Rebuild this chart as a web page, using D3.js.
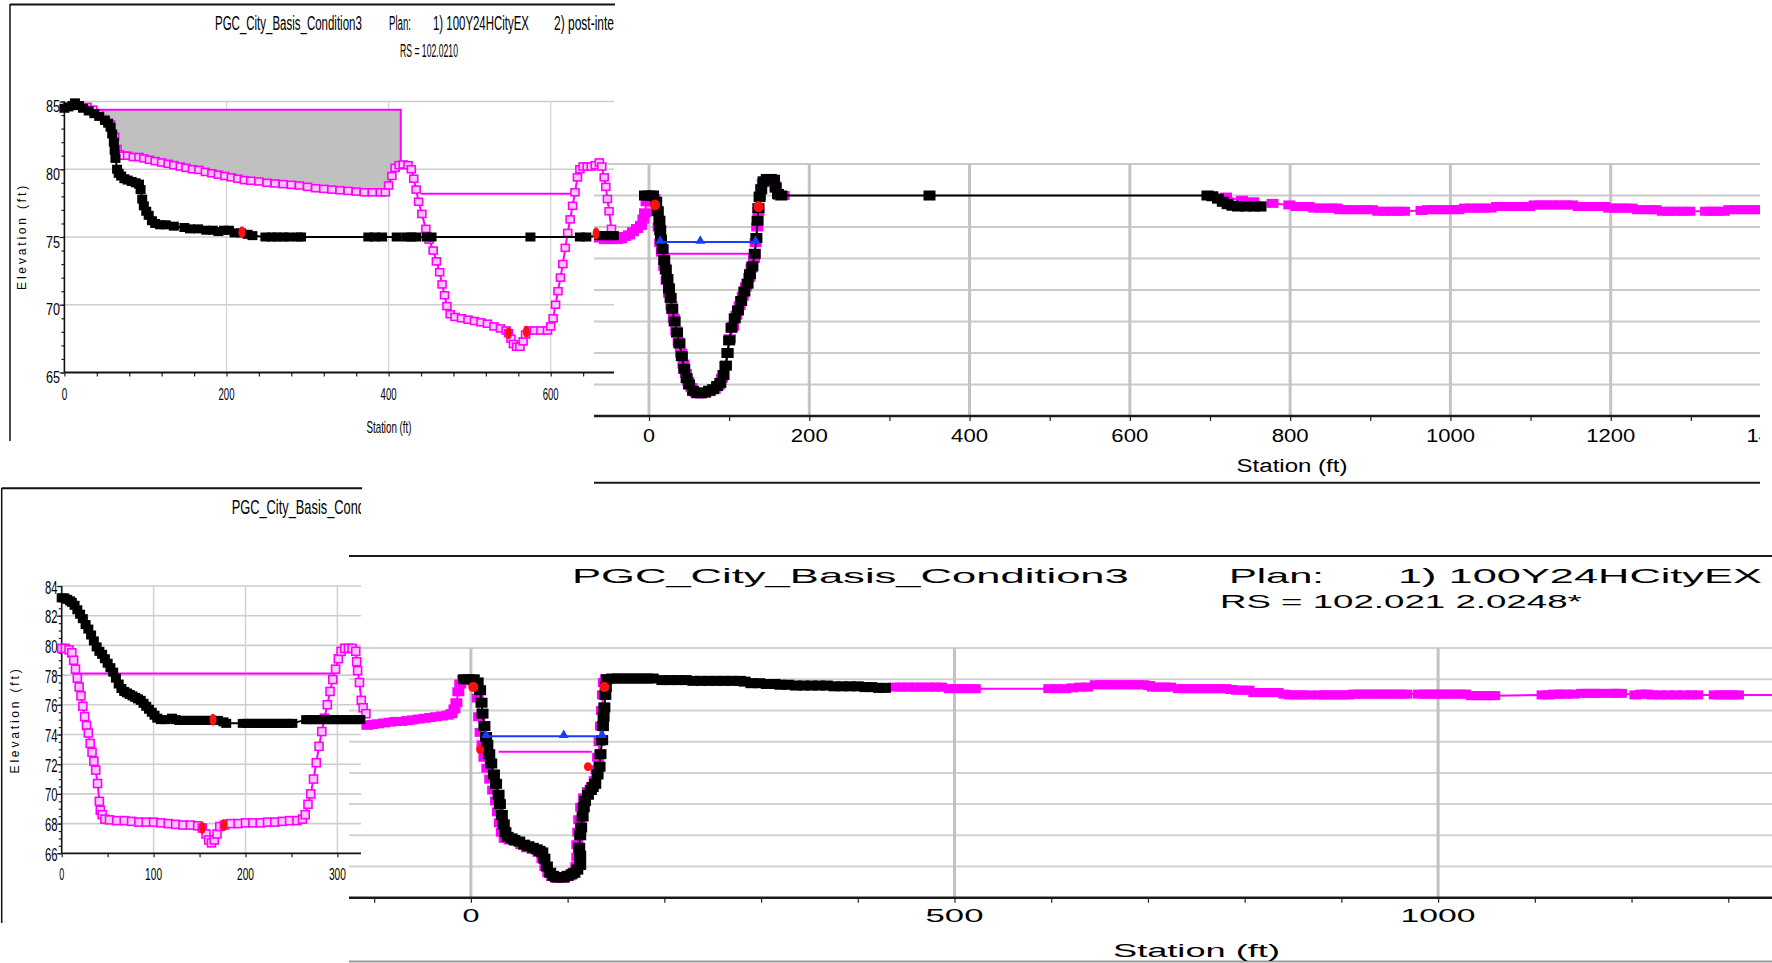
<!DOCTYPE html>
<html>
<head>
<meta charset="utf-8">
<script src="https://cdn.jsdelivr.net/npm/d3@7"></script>
<style>
  body { margin: 0; background: #fff; }
  svg { display: block; }
</style>
</head>
<body>
<svg id="chart" width="1772" height="963"></svg>
<script>
// ---------- Cross-section data: [station ft, elevation ft] ----------

// Top-left section (RS = 102.0210)
const A_ground1 = [[0,84.5],[5,84.6],[10,84.7],[13,84.9],[18,84.7],[23,84.5],[30,84.3],[37,84.1],[43,83.9],[50,83.6],[54,83.4],[57,83.1],[59,82.6],[61,82.0],[62,81.4],[63,80.8],[65,80.0],[67,79.7],[70,79.5],[74,79.3],[78,79.2],[83,79.1],[88,79.0],[92,78.9],[94,78.5],[96,77.8],[98,77.3],[101,76.9],[104,76.6],[108,76.2],[112,76.0],[118,75.9],[125,75.9],[135,75.8],[148,75.7],[155,75.6],[165,75.6],[175,75.5],[183,75.5],[190,75.4],[197,75.5],[203,75.5],[210,75.3],[218,75.3],[226,75.2],[232,75.1],[248,75.0],[256,75.0],[262,75.0],[270,75.0],[277,75.0],[288,75.0],[292,75.0],[375,75.0],[383,75.0],[392,75.0],[410,75.0],[422,75.0],[428,75.0],[434,75.0],[447,75.0],[453,75.0],[575,75.0],[636,75.0],[644,75.0],[660,75.1],[667,75.1],[673,75.1],[678,75.1]];
const A_ground2 = [[28,84.6],[35,84.4],[42,84.1],[50,83.7],[57,83.3],[62,82.4],[65,81.5],[68,81.1],[72,81.0],[78,81.0],[85,80.9],[92,80.9],[98,80.8],[105,80.7],[112,80.6],[120,80.5],[128,80.4],[135,80.3],[143,80.2],[150,80.1],[158,80.0],[166,79.95],[174,79.8],[182,79.7],[190,79.6],[198,79.5],[206,79.4],[214,79.3],[222,79.2],[230,79.15],[240,79.1],[250,79.0],[260,78.95],[270,78.9],[280,78.85],[290,78.8],[300,78.7],[310,78.6],[320,78.55],[330,78.5],[340,78.45],[350,78.4],[360,78.35],[370,78.3],[380,78.3],[390,78.3],[396,78.3],[400,78.8],[404,79.5],[408,80.1],[413,80.3],[418,80.35],[424,80.3],[428,80.0],[431,79.3],[434,78.5],[437,77.6],[441,76.7],[446,75.6],[450,74.8],[455,74.0],[459,73.2],[463,72.4],[466,71.5],[469,70.7],[472,69.9],[476,69.3],[482,69.1],[490,69.0],[498,68.9],[506,68.8],[514,68.7],[522,68.6],[530,68.4],[538,68.25],[545,68.1],[548,67.9],[551,67.5],[554,67.1],[558,66.9],[562,66.9],[566,67.3],[569,67.8],[573,68.1],[580,68.1],[588,68.1],[596,68.1],[600,68.4],[603,69.0],[606,70.0],[609,71.0],[612,72.0],[615,73.0],[618,74.2],[621,75.3],[624,76.3],[627,77.3],[630,78.3],[633,79.4],[636,80.0],[640,80.2],[645,80.2],[650,80.2],[655,80.3],[660,80.5],[663,80.2],[666,79.4],[668,78.7],[670,77.8],[672,76.9],[675,75.6],[678,75.0]];
const A_banks1 = [[219,75.35],[656,75.25]];
const A_banks2 = [[548,67.9],[570,68.0]];
const A_ineffective2 = [[33,84.4],[415,84.4],[415,80.3]];
const A_ws2 = [[440,78.2],[631,78.2]];

// Top-right section
const B_ground1 = [[-5,78.0],[0,78.0],[5,78.0],[9,77.6],[11,77.0],[13,76.4],[14,75.8],[15,75.2],[17,74.6],[19,73.9],[21,73.3],[23,72.7],[25,72.1],[27,71.5],[29,70.8],[32,70.0],[35,69.3],[38,68.6],[41,67.8],[44,67.0],[47,66.4],[50,66.0],[55,65.6],[60,65.45],[65,65.45],[70,65.5],[75,65.6],[80,65.7],[85,65.9],[89,66.1],[93,66.6],[96,67.2],[98,68.0],[100,68.8],[103,69.6],[107,70.2],[111,70.7],[115,71.3],[119,71.9],[123,72.4],[126,73.0],[129,73.5],[132,74.3],[134,75.3],[135.5,76.4],[136.5,77.2],[138,77.9],[140,78.4],[143,78.9],[147,79.05],[152,79.05],[156,79.0],[158,78.5],[161,78.1],[165,78.0],[350,78.0],[697,78.0],[703,77.95],[710,77.8],[716,77.6],[722,77.45],[728,77.35],[735,77.3],[745,77.3],[755,77.3],[763,77.3]];
// plan 2 ground, left bank and channel
const B_ground2_left = [[-62,75.3],[-55,75.2],[-48,75.2],[-44,75.3],[-40,75.2],[-35,75.25],[-30,75.4],[-25,75.5],[-20,75.7],[-15,75.9],[-10,76.1],[-7,76.5],[-5,76.9],[-3,77.6],[-1,78.0],[3,78.0],[7,77.8],[10,77.0],[12,76.0],[14,75.0],[16,74.4],[19,73.5],[22,72.6],[25,71.8],[28,71.0],[31,70.2],[34,69.4],[37,68.7],[40,68.0],[43,67.3],[46,66.7],[49,66.2],[53,65.8],[58,65.5],[64,65.4],[70,65.45],[76,65.55],[82,65.7],[87,65.95],[91,66.4],[95,67.2],[98,68.0],[101,68.9],[105,69.7],[109,70.4],[113,71.0],[117,71.6],[121,72.2],[125,72.8],[128,73.4],[131,74.0],[133,75.0],[135,76.0],[136.5,77.0],[138.5,78.0],[142,78.8],[148,79.0],[154,79.0],[158,78.6],[162,78.0],[168,78.0]];
// plan 2 ground, right overbank
const B_ground2_right = [[697,78.0],[720,77.9],[740,77.7],[754,77.6],[778,77.5],[799,77.4],[808,77.3],[815,77.3],[823,77.3],[830,77.2],[838,77.2],[845,77.2],[852,77.2],[858,77.2],[862,77.1],[870,77.1],[878,77.1],[886,77.1],[894,77.1],[902,77.1],[910,77.0],[918,77.0],[926,77.0],[934,77.0],[942,77.0],[964,77.05],[972,77.1],[980,77.1],[988,77.1],[995,77.1],[1003,77.1],[1010,77.1],[1018,77.2],[1026,77.2],[1034,77.2],[1042,77.2],[1050,77.2],[1058,77.3],[1066,77.3],[1074,77.3],[1082,77.3],[1090,77.3],[1098,77.3],[1105,77.4],[1113,77.4],[1120,77.4],[1128,77.4],[1136,77.4],[1144,77.4],[1152,77.4],[1160,77.3],[1168,77.3],[1176,77.3],[1184,77.3],[1192,77.3],[1198,77.2],[1205,77.2],[1212,77.2],[1218,77.2],[1226,77.2],[1234,77.1],[1242,77.1],[1250,77.1],[1256,77.1],[1265,77.0],[1273,77.0],[1281,77.0],[1290,77.0],[1298,77.0],[1319,77.0],[1325,77.0],[1333,77.0],[1341,77.0],[1348,77.1],[1356,77.1],[1364,77.1],[1372,77.1],[1380,77.1],[1388,77.1]];
const B_banks1 = [[7.4,77.4],[136.6,77.3]];
const B_ws1 = [[14,75.05],[64,75.05],[133,75.05]];
const B_ws2 = [[22,74.3],[126,74.3]];

// Bottom-left section
const C_ground1 = [[0,83.2],[3,83.2],[6,83.1],[9,83.0],[11,82.9],[14,82.7],[17,82.4],[20,82.1],[23,81.8],[26,81.4],[29,81.1],[32,80.7],[35,80.3],[38,79.9],[41,79.6],[44,79.4],[47,79.1],[50,78.8],[53,78.5],[56,78.2],[59,77.8],[62,77.4],[65,77.1],[68,76.9],[71,76.8],[74,76.7],[77,76.6],[80,76.5],[83,76.4],[86,76.3],[89,76.1],[92,75.9],[95,75.7],[98,75.5],[101,75.3],[104,75.1],[108,75.0],[113,75.0],[120,75.1],[124,75.0],[128,74.95],[132,74.95],[136,74.95],[140,74.95],[144,74.95],[148,74.95],[152,74.95],[156,74.95],[160,74.95],[164,74.95],[170,74.95],[176,74.85],[179,74.75],[197,74.75],[202,74.75],[207,74.75],[212,74.75],[217,74.75],[222,74.75],[227,74.75],[232,74.75],[237,74.75],[242,74.75],[247,74.75],[251,74.75],[266,75.0],[270,75.0],[275,75.0],[280,75.0],[285,75.0],[290,75.0],[295,75.0],[300,75.0],[305,75.0],[310,75.0],[315,75.0],[320,75.0],[325,75.0]];
const C_ground2 = [[0,79.8],[4,79.8],[8,79.7],[11,79.5],[13,79.0],[15,78.4],[17,77.8],[19,77.2],[21,76.6],[23,75.9],[25,75.2],[27,74.6],[29,74.1],[31,73.4],[33,72.8],[35,72.2],[37,71.6],[39,70.7],[41,69.5],[42,68.9],[44,68.6],[47,68.3],[52,68.25],[60,68.2],[68,68.2],[76,68.15],[84,68.1],[92,68.1],[100,68.1],[108,68.05],[116,68.0],[124,67.95],[132,67.9],[140,67.9],[148,67.85],[153,67.7],[157,67.3],[160,66.9],[163,66.7],[166,66.9],[169,67.3],[172,67.8],[177,67.9],[184,68.0],[192,68.0],[200,68.05],[208,68.05],[216,68.05],[224,68.1],[232,68.1],[240,68.15],[248,68.2],[256,68.2],[262,68.3],[265,68.6],[268,69.3],[271,70.0],[274,71.0],[277,72.1],[280,73.2],[283,74.2],[286,75.1],[289,76.0],[292,76.9],[295,77.7],[298,78.4],[301,79.1],[304,79.6],[308,79.8],[312,79.8],[316,79.8],[320,79.6],[321,78.9],[322,78.3],[324,77.5],[326,76.3],[328,75.8],[331,75.4]];
const C_banks1 = [[164.6,75.0]];
const C_banks2 = [[153,67.7],[176.5,67.9]];
const C_ws2 = [[20,78.1],[296,78.1]];

// Bottom-right section (RS = 102.021 2.0248*)
const D_ground1 = [[-7,78.0],[-2,78.0],[3,78.0],[7,77.8],[9.5,77.3],[11,76.5],[12,75.8],[14,75.0],[15.7,74.3],[17,73.8],[19,73.2],[21,72.6],[23.8,71.9],[26,71.3],[28.6,70.6],[30,70.0],[32,69.3],[34,68.7],[35.7,68.2],[38,67.9],[42,67.8],[45,67.7],[50,67.6],[55,67.4],[59.5,67.3],[64,67.2],[68,67.1],[71,67.0],[73.8,66.9],[76,66.5],[78.6,66.0],[82,65.6],[85,65.4],[88,65.3],[92,65.3],[96,65.3],[100,65.4],[104,65.5],[107,65.6],[110,65.8],[113,66.1],[113,66.7],[112,67.2],[113,68.0],[114,68.5],[115.5,69.2],[116.7,69.8],[118,70.2],[121,70.6],[124,70.9],[126,71.1],[128.6,71.3],[131,71.9],[133,72.4],[134,73.2],[135.7,74.1],[136.5,75.0],[137.2,75.6],[138,76.2],[139,77.0],[139.5,77.5],[140.5,78.0],[146,78.05],[152,78.05],[158,78.05],[164,78.05],[170,78.05],[176,78.05],[182,78.05],[188,78.05],[198,77.95],[206,77.95],[214,77.95],[222,77.95],[230,77.9],[238,77.9],[246,77.9],[254,77.9],[262,77.9],[270,77.9],[278,77.9],[283,77.85],[290,77.75],[298,77.75],[306,77.7],[314,77.7],[320,77.65],[328,77.65],[336,77.6],[344,77.6],[352,77.6],[360,77.6],[368,77.6],[376,77.55],[384,77.55],[392,77.55],[400,77.55],[408,77.5],[414,77.5],[422,77.45],[428,77.45]];
const D_ground2 = [[-107,75.05],[-102,75.1],[-96,75.15],[-90,75.2],[-84,75.25],[-78,75.3],[-72,75.3],[-66,75.35],[-60,75.4],[-54,75.45],[-48,75.5],[-42,75.55],[-36,75.6],[-30,75.65],[-24,75.7],[-20,75.8],[-17,76.1],[-15,76.5],[-13,77.2],[-11,77.7],[-8,78.0],[-3,78.0],[2,77.9],[5,77.6],[7,76.8],[8.5,75.6],[10,74.6],[12,73.8],[14,73.0],[17,72.3],[20,71.6],[23,70.9],[26,70.2],[28,69.5],[30,68.8],[32,68.2],[35,67.8],[40,67.7],[46,67.6],[52,67.4],[58,67.2],[64,67.1],[70,66.9],[74,66.5],[77,66.0],[80,65.6],[84,65.35],[90,65.25],[96,65.25],[102,65.4],[106,65.6],[109,66.0],[110,66.6],[110,67.4],[111,68.2],[112,69.0],[114,69.8],[117,70.4],[121,70.8],[125,71.1],[128,71.5],[130,72.2],[131.5,73.0],[133,74.0],[134.5,75.0],[135.5,76.0],[136.5,77.0],[137.5,77.8],[140,78.05],[150,78.05],[160,78.05],[438,77.5],[445,77.5],[452,77.5],[459,77.5],[466,77.5],[473,77.5],[480,77.5],[486,77.5],[495,77.4],[502,77.4],[509,77.4],[515,77.4],[521,77.4],[598,77.4],[606,77.4],[614,77.4],[622,77.45],[630,77.5],[637,77.5],[646,77.65],[652,77.65],[658,77.65],[664,77.65],[670,77.65],[677,77.65],[683,77.65],[689,77.65],[695,77.65],[701,77.6],[705,77.5],[711,77.5],[717,77.5],[723,77.5],[732,77.4],[738,77.4],[744,77.4],[750,77.4],[756,77.4],[762,77.4],[768,77.4],[774,77.4],[780,77.4],[786,77.35],[792,77.3],[798,77.3],[804,77.3],[810,77.15],[816,77.15],[822,77.15],[828,77.15],[834,77.15],[841,77.05],[847,77.0],[853,77.0],[859,77.0],[866,77.0],[877,77.0],[883,77.0],[889,77.0],[895,77.0],[901,77.0],[907,77.0],[913,77.05],[919,77.05],[925,77.05],[931,77.05],[937,77.05],[943,77.05],[949,77.05],[955,77.05],[961,77.05],[967,77.05],[980,77.05],[986,77.05],[992,77.05],[998,77.05],[1004,77.05],[1010,77.05],[1016,77.05],[1022,77.05],[1028,77.05],[1035,76.95],[1041,76.95],[1047,76.95],[1053,76.95],[1058,76.95],[1108,77.0],[1114,77.0],[1120,77.05],[1126,77.05],[1132,77.05],[1140,77.05],[1149,77.1],[1155,77.1],[1162,77.1],[1167,77.1],[1178,77.1],[1183,77.1],[1189,77.1],[1204,77.0],[1210,77.05],[1216,77.05],[1222,77.0],[1230,77.0],[1238,77.0],[1246,77.0],[1254,77.0],[1262,77.0],[1268,77.0],[1286,77.0],[1292,77.0],[1298,77.0],[1304,77.0],[1310,77.0],[1360,77.0]];
const D_banks1 = [[2.4,77.5],[138,77.5]];
const D_banks2 = [[9.5,73.5],[121,72.4]];
const D_ws1 = [[15.7,74.35],[96,74.35],[135.7,74.35]];
const D_ws2 = [[28.6,73.35],[125,73.35]];

// Axis tick values
const A_xTicks = [0,200,400,600];
const A_yTicks = [65,70,75,80,85];
const B_xTicks = [0,200,400,600,800,1000,1200,1400];
const C_xTicks = [0,100,200,300];
const C_yTicks = [66,68,70,72,74,76,78,80,82,84];
const D_xTicks = [0,500,1000];

// ---------- drawing ----------
const svg = d3.select("#chart");
const MAG = "#ff00ff", BLUE = "#1a3cff", RED = "#ff1010";
const SANS = "'Liberation Sans', Arial, sans-serif";

const defs = svg.append("defs");
function clip(id, x, y, w, h) {
  defs.append("clipPath").attr("id", id).append("rect").attr("x", x).attr("y", y).attr("width", w).attr("height", h);
  return "url(#" + id + ")";
}

// Text squeezed or stretched horizontally to a given width
function text(g, s, x, y, o) {
  const t = g.append("text").attr("x", 0).attr("y", 0).text(s)
    .attr("font-family", o.ff || SANS).attr("font-size", o.fs).attr("fill", o.fill || "#000")
    .attr("text-anchor", o.anchor || "start");
  if (o.ls) t.attr("letter-spacing", o.ls);
  let sx = 1;
  if (o.len) sx = o.len / t.node().getComputedTextLength();
  t.attr("transform", `translate(${x},${y})${o.rot ? ` rotate(${o.rot})` : ""} scale(${sx},1)`);
  return t;
}

function hline(g, x1, x2, y, color, w) {
  g.append("line").attr("x1", x1).attr("x2", x2).attr("y1", y).attr("y2", y).attr("stroke", color).attr("stroke-width", w);
}
function vline(g, x, y1, y2, color, w) {
  g.append("line").attr("x1", x).attr("x2", x).attr("y1", y1).attr("y2", y2).attr("stroke", color).attr("stroke-width", w);
}

function series(g, sx, sy, data, o) {
  const line = d3.line().x(d => sx(d[0])).y(d => sy(d[1]));
  g.append("path").attr("d", line(data)).attr("fill", "none").attr("stroke", o.color).attr("stroke-width", o.lw || 2);
  if (o.mw) {
    g.selectAll(null).data(data).join("rect")
      .attr("x", d => sx(d[0]) - o.mw / 2).attr("y", d => sy(d[1]) - o.mh / 2)
      .attr("width", o.mw).attr("height", o.mh)
      .attr("fill", o.hollow ? "#ffc8ff" : o.color)
      .attr("stroke", o.hollow ? o.color : "none").attr("stroke-width", o.hollow ? 1.6 : 0);
  }
}
function dots(g, sx, sy, data, rx, ry) {
  g.selectAll(null).data(data).join("ellipse")
    .attr("cx", d => sx(d[0])).attr("cy", d => sy(d[1])).attr("rx", rx).attr("ry", ry).attr("fill", RED);
}
function triangles(g, sx, sy, data) {
  const sym = d3.symbol().type(d3.symbolTriangle).size(42);
  g.selectAll(null).data(data).join("path")
    .attr("transform", d => `translate(${sx(d[0])},${sy(d[1]) - 1})`).attr("d", sym).attr("fill", BLUE);
}

// ===== Top-right section (drawn first, the top-left one overlaps it) =====
{
  const g = svg.append("g");
  const x = d3.scaleLinear().domain([0, 1200]).range([649, 1610.7]);
  const y = d3.scaleLinear().domain([64, 80]).range([416, 164]);
  const L = 594, R = 1760;
  const cp = clip("clipB", L, 100, R - L, 400);
  const grid = g.append("g");
  [66,68,70,72,74,76,78,80].forEach(v => hline(grid, L, R, y(v), "#cacaca", 2));
  B_xTicks.filter(v => x(v) < R).forEach(v => vline(grid, x(v), y(80), y(64), "#c4c4c4", 3));
  const ax = g.append("g").attr("transform", `translate(0,${y(64)})`)
    .call(d3.axisBottom(x).tickValues(d3.range(0, 1500, 100).filter(v => x(v) < R)).tickSize(5).tickFormat(""));
  ax.select(".domain").remove();
  ax.selectAll("line").attr("stroke", "#222").attr("stroke-width", 1.2);
  hline(g, L, R, y(64), "#1a1a1a", 2.5);
  hline(g, L, R, 482.7, "#1a1a1a", 2);
  const lab = g.append("g").attr("clip-path", cp);
  const bw = {"0": 12, "200": 37, "400": 37, "600": 37, "800": 37, "1000": 49, "1200": 49, "1400": 49};
  B_xTicks.forEach(v => text(lab, String(v), x(v), 441.5, {fs: 18, anchor: "middle", len: bw[v]}));
  text(g, "Station (ft)", 1292, 472, {fs: 18, anchor: "middle", len: 111});

  const d = g.append("g").attr("clip-path", cp);
  series(d, x, y, B_ws2, {color: MAG, lw: 2});
  series(d, x, y, B_ground2_left, {color: MAG, lw: 2, mw: 12, mh: 9});
  series(d, x, y, B_ground2_right, {color: MAG, lw: 2, mw: 12, mh: 9});
  series(d, x, y, B_ground1, {color: "#000", lw: 2, mw: 12, mh: 10});
  series(d, x, y, B_ws1, {color: BLUE, lw: 2});
  triangles(d, x, y, B_ws1);
  dots(d, x, y, B_banks1, 5, 5.5);
}

// ===== Top-left section =====
{
  const g = svg.append("g");
  const x = d3.scaleLinear().domain([0, 600]).range([64.4, 550.7]);
  const y = d3.scaleLinear().domain([65, 85]).range([372.5, 101.5]);
  const R = 614;
  // frame
  hline(g, 10, 615, 4.5, "#111", 2);
  vline(g, 10, 4, 441, "#111", 1.5);
  // titles
  text(g, "PGC_City_Basis_Condition3", 215, 30, {fs: 21, len: 147});
  text(g, "Plan:", 389, 30, {fs: 21, len: 22});
  text(g, "1) 100Y24HCityEX", 433, 30, {fs: 21, len: 96});
  text(g, "2) post-inte", 554, 30, {fs: 21, len: 60});
  text(g, "RS = 102.0210", 400, 56.5, {fs: 19, len: 58});
  // grid
  A_yTicks.filter(v => v > 65).forEach(v => hline(g, x(0), R, y(v), "#cdcdcd", 1.3));
  A_xTicks.filter(v => v > 0).forEach(v => vline(g, x(v), y(85), y(65), "#d4d4d4", 1.3));
  // axes
  const yMinor = g.append("g").attr("transform", `translate(${x(0)},0)`)
    .call(d3.axisLeft(y).tickValues(d3.range(65, 86, 1)).tickSize(3).tickFormat(""));
  const yMajor = g.append("g").attr("transform", `translate(${x(0)},0)`)
    .call(d3.axisLeft(y).tickValues(A_yTicks).tickSize(5).tickFormat(""));
  const xMinor = g.append("g").attr("transform", `translate(0,${y(65)})`)
    .call(d3.axisBottom(x).tickValues(d3.range(0, 680, 40)).tickSize(4).tickFormat(""));
  [yMinor, yMajor, xMinor].forEach(a => { a.select(".domain").remove(); a.selectAll("line").attr("stroke", "#222").attr("stroke-width", 1.2); });
  vline(g, x(0), y(85), y(65), "#111", 1.6);
  hline(g, x(0), R, y(65), "#111", 1.8);
  A_yTicks.forEach(v => text(g, String(v), 60, y(v) + 10.5, {fs: 16, anchor: "end", len: 14}));
  A_xTicks.forEach(v => text(g, String(v), x(v), 400, {fs: 16, anchor: "middle", len: v === 0 ? 5.5 : 16}));
  text(g, "Station (ft)", 389, 433, {fs: 16, anchor: "middle", len: 45});
  text(g, "Elevation (ft)", 26, 236.5, {fs: 13, anchor: "middle", len: 107, ls: 3, rot: -90});

  // ineffective flow area of plan 2
  const inArea = A_ground2.filter(d => d[0] >= 33 && d[0] <= 415).slice().reverse();
  const poly = A_ineffective2.concat(inArea);
  g.append("path").attr("d", d3.line().x(d => x(d[0])).y(d => y(d[1]))(poly) + "Z").attr("fill", "#c0c0c0").attr("stroke", "none");
  series(g, x, y, A_ineffective2, {color: MAG, lw: 2});
  series(g, x, y, A_ws2, {color: MAG, lw: 2});
  series(g, x, y, A_ground2, {color: MAG, lw: 2, mw: 8, mh: 7, hollow: true});
  series(g, x, y, A_ground1, {color: "#000", lw: 2, mw: 10, mh: 9});
  dots(g, x, y, A_banks1, 3.5, 6);
  dots(g, x, y, A_banks2, 3.5, 6);
}

// ===== Bottom-right section =====
{
  const g = svg.append("g");
  const x = d3.scaleLinear().domain([0, 1000]).range([470.9, 1438.1]);
  const y = d3.scaleLinear().domain([64, 80]).range([897.7, 648.1]);
  const L = 349, R = 1772;
  const cp = clip("clipD", L, 600, R - L, 320);
  hline(g, L, R, 556, "#1a1a1a", 2.2);
  hline(g, L, R, 961.5, "#9a9a9a", 2);
  text(g, "PGC_City_Basis_Condition3", 572, 583, {fs: 21, len: 557});
  text(g, "Plan:", 1229, 583, {fs: 21, len: 95});
  text(g, "1) 100Y24HCityEX", 1398, 583, {fs: 21, len: 364});
  text(g, "RS = 102.021  2.0248*", 1220, 608, {fs: 18, len: 362});
  [66,68,70,72,74,76,78,80].forEach(v => hline(g, L, R, y(v), "#d2d2d2", 2));
  D_xTicks.forEach(v => vline(g, x(v), y(80), y(64), "#c2c2c2", 3));
  const ax = g.append("g").attr("transform", `translate(0,${y(64)})`)
    .call(d3.axisBottom(x).tickValues(d3.range(-100, 1400, 100)).tickSize(5).tickFormat(""));
  ax.select(".domain").remove();
  ax.selectAll("line").attr("stroke", "#222").attr("stroke-width", 1.2);
  hline(g, L, R, y(64), "#1a1a1a", 2.5);
  const dw = {"0": 17, "500": 58, "1000": 75};
  D_xTicks.forEach(v => text(g, String(v), x(v), 922, {fs: 18, anchor: "middle", len: dw[v]}));
  text(g, "Station (ft)", 1113, 957, {fs: 18, len: 167});

  const d = g.append("g").attr("clip-path", cp);
  series(d, x, y, D_ws2, {color: MAG, lw: 2});
  series(d, x, y, D_ground2, {color: MAG, lw: 2, mw: 12, mh: 9});
  series(d, x, y, D_ground1, {color: "#000", lw: 2, mw: 12, mh: 10});
  series(d, x, y, D_ws1, {color: BLUE, lw: 2});
  triangles(d, x, y, D_ws1);
  dots(d, x, y, D_banks1, 5, 5);
  dots(d, x, y, D_banks2, 4, 4.5);
}

// ===== Bottom-left section =====
{
  const g = svg.append("g");
  const x = d3.scaleLinear().domain([0, 300]).range([61.7, 337.4]);
  const y = d3.scaleLinear().domain([66, 84]).range([853.3, 586]);
  const R = 361;
  const cp = clip("clipC", 0, 480, R, 60);
  hline(g, 1.7, 362, 488.3, "#111", 2);
  vline(g, 1.7, 488, 923, "#111", 1.5);
  text(g.append("g").attr("clip-path", cp), "PGC_City_Basis_Condition3", 231.7, 514, {fs: 21, len: 164});
  C_yTicks.filter(v => v > 66).forEach(v => hline(g, x(0), R, y(v), "#cdcdcd", 1.6));
  C_xTicks.filter(v => v > 0).forEach(v => vline(g, x(v), y(84), y(66), "#d2d2d2", 1.5));
  const yMinor = g.append("g").attr("transform", `translate(${x(0)},0)`)
    .call(d3.axisLeft(y).tickValues(d3.range(66, 84.01, 0.5)).tickSize(3).tickFormat(""));
  const yMajor = g.append("g").attr("transform", `translate(${x(0)},0)`)
    .call(d3.axisLeft(y).tickValues(C_yTicks).tickSize(5).tickFormat(""));
  const xMinor = g.append("g").attr("transform", `translate(0,${y(66)})`)
    .call(d3.axisBottom(x).tickValues(d3.range(0, 330, 50)).tickSize(4).tickFormat(""));
  [yMinor, yMajor, xMinor].forEach(a => { a.select(".domain").remove(); a.selectAll("line").attr("stroke", "#222").attr("stroke-width", 1.2); });
  vline(g, x(0), y(84), y(66), "#111", 1.6);
  hline(g, x(0), R, y(66), "#111", 1.8);
  C_yTicks.forEach(v => text(g, String(v), 57.5, y(v) + 7.5, {fs: 18, anchor: "end", len: 12.5}));
  C_xTicks.forEach(v => text(g, String(v), x(v), 880, {fs: 17, anchor: "middle", len: v === 0 ? 5 : 17}));
  text(g, "Elevation (ft)", 18.5, 720, {fs: 13, anchor: "middle", len: 107, ls: 3, rot: -90});

  series(g, x, y, C_ws2, {color: MAG, lw: 2});
  series(g, x, y, C_ground2, {color: MAG, lw: 2, mw: 8, mh: 8, hollow: true});
  series(g, x, y, C_ground1, {color: "#000", lw: 2, mw: 10, mh: 9});
  dots(g, x, y, C_banks1, 3.5, 6);
  dots(g, x, y, C_banks2, 3.5, 6);
}
</script>
</body>
</html>
